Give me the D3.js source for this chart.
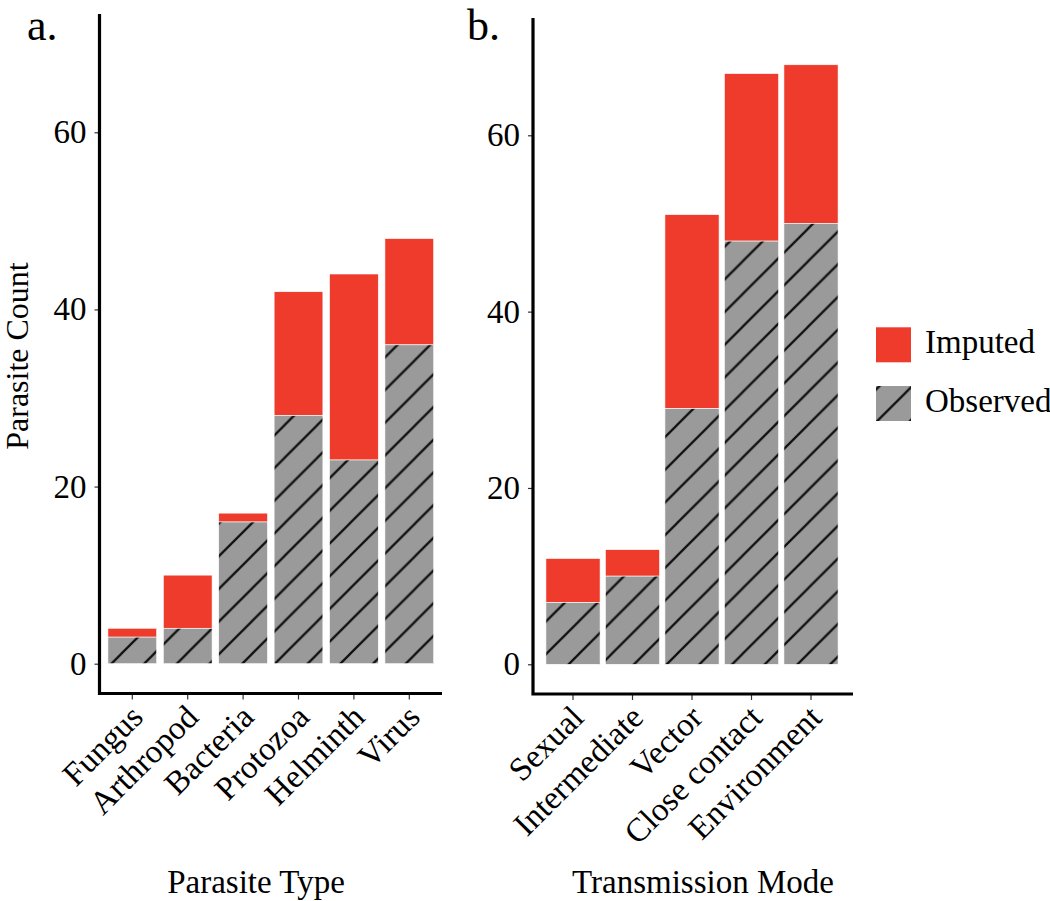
<!DOCTYPE html>
<html><head><meta charset="utf-8">
<script src="https://cdn.jsdelivr.net/npm/d3@7"></script>
<style>
body{margin:0;background:#fff}
text{font-family:"Liberation Serif","Times New Roman",serif;fill:#000}
</style>
</head><body>
<svg id="c" width="1050" height="901"></svg>
<script>
// ---- data ----
const parasiteTypes = ["Fungus","Arthropod","Bacteria","Protozoa","Helminth","Virus"];
const typeObserved  = [3, 4, 16, 28, 23, 36];
const typeTotal     = [4, 10, 17, 42, 44, 48];
const transmissionModes = ["Sexual","Intermediate","Vector","Close contact","Environment"];
const modeObserved  = [7, 10, 29, 48, 50];
const modeTotal     = [12, 13, 51, 67, 68];
const yTicks = [0, 20, 40, 60];
const legendLabels = ["Imputed", "Observed"];
const axisTitles = ["Parasite Type", "Transmission Mode"];
const yTitle = "Parasite Count";
const panelTags = ["a.", "b."];

const RED = "#EE3B2B", GREY = "#9A9A9A";
const FS = "33px";
const svg = d3.select("#c");
const defs = svg.append("defs");
const S = 32.7;
const pat = defs.append("pattern").attr("id","hatch").attr("patternUnits","userSpaceOnUse")
  .attr("width",S).attr("height",S).attr("x",23);
pat.append("rect").attr("width",S).attr("height",S).attr("fill",GREY);
pat.append("path").attr("d",`M${-S/2},${S/2} L${S/2},${-S/2} M0,${S} L${S},0 M${S/2},${1.5*S} L${1.5*S},${S/2}`)
  .attr("stroke","#111").attr("stroke-width",2.3);

const panels = [
  {cats: parasiteTypes, obs: typeObserved, tot: typeTotal, axisX: 99.5, top: 14, bottom: 693.5, right: 442,
   y0: 663.7, y60: 132.3, band: [104.6, 437], padIn: 0.12, title: axisTitles[0], tag: panelTags[0], tagX: 27, titleX: 256},
  {cats: transmissionModes, obs: modeObserved, tot: modeTotal, axisX: 533, top: 18, bottom: 694, right: 853,
   y0: 664.3, y60: 135.3, band: [543.25, 840.75], padIn: 0.09, title: axisTitles[1], tag: panelTags[1], tagX: 467, titleX: 703}
];

panels.forEach(p => {
  const g = svg.append("g");
  const y = d3.scaleLinear().domain([0, 60]).range([p.y0, p.y60]);
  const x = d3.scaleBand().domain(p.cats).range(p.band).paddingInner(p.padIn).paddingOuter(p.padIn/2);
  const data = p.cats.map((c, i) => ({c, o: p.obs[i], t: p.tot[i]}));

  // bars
  g.selectAll(".imp").data(data).join("rect")
    .attr("x", d => x(d.c)).attr("width", x.bandwidth())
    .attr("y", d => y(d.t)).attr("height", d => y(d.o) - y(d.t))
    .attr("fill", RED).attr("stroke", "#fff").attr("stroke-width", 0.6);
  g.selectAll(".obs").data(data).join("rect")
    .attr("x", d => x(d.c)).attr("width", x.bandwidth())
    .attr("y", d => y(d.o)).attr("height", d => y(0) - y(d.o))
    .attr("fill", "url(#hatch)").attr("stroke", "#fff").attr("stroke-width", 0.6);

  // y axis
  const ya = g.append("g").attr("transform", `translate(${p.axisX},0)`)
    .call(d3.axisLeft(y).tickValues(yTicks).tickSize(5).tickPadding(8));
  ya.select(".domain").remove();
  ya.selectAll(".tick line").attr("stroke", "#333").attr("stroke-width", 1.2);
  ya.selectAll(".tick text").style("font-family", '"Liberation Serif",serif').style("font-size", FS).attr("fill", "#000");

  // x axis
  const xa = g.append("g").attr("transform", `translate(0,${p.bottom})`)
    .call(d3.axisBottom(x).tickSize(6).tickPadding(0));
  xa.select(".domain").remove();
  xa.selectAll(".tick line").attr("stroke", "#333").attr("stroke-width", 1.2);
  xa.selectAll(".tick text").remove();
  xa.selectAll(".tick").append("text")
    .attr("transform", "translate(-5,8) rotate(-45)")
    .attr("text-anchor", "end").attr("dy", "0.75em")
    .style("font-size", FS).attr("fill", "#000")
    .text(d => d);

  // axis lines
  g.append("path").attr("d", `M${p.axisX},${p.top} V${p.bottom} H${p.right}`)
    .attr("fill", "none").attr("stroke", "#000").attr("stroke-width", 3.2);

  // titles
  g.append("text").attr("x", p.titleX).attr("y", 893).attr("text-anchor", "middle")
    .style("font-size", FS).text(p.title);
  g.append("text").attr("x", p.tagX).attr("y", 40).style("font-size", "44px").text(p.tag);
});

// y title
svg.append("text").attr("transform", "translate(28,356) rotate(-90)").attr("text-anchor", "middle")
  .style("font-size", "32px").text(yTitle);

// legend
const lg = svg.append("g");
const legendFills = [RED, "url(#hatch)"];
const legendY = [327.3, 386];
legendLabels.forEach((l, i) => {
  lg.append("rect").attr("x", 876).attr("y", legendY[i]).attr("width", 35).attr("height", 35)
    .attr("fill", legendFills[i]);
  lg.append("text").attr("x", 925).attr("y", legendY[i] + 26).style("font-size", FS).text(l);
});
</script>
</body></html>
